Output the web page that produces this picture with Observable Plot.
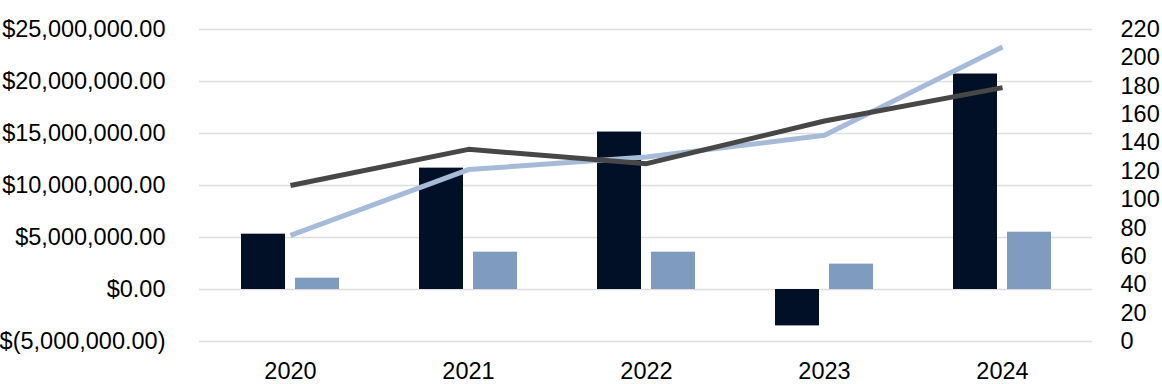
<!DOCTYPE html>
<html>
<head>
<meta charset="utf-8">
<script src="https://cdn.jsdelivr.net/npm/d3@7"></script>
<script src="https://cdn.jsdelivr.net/npm/@observablehq/plot@0.6"></script>
<style>
  html, body { margin: 0; padding: 0; background: #fff; }
</style>
</head>
<body>
<div id="chart"></div>
<script>
// Categories
const years = ["2020", "2021", "2022", "2023", "2024"];
// Bar series (left axis, dollars)
const barDark  = [5320000, 11670000, 15140000, -3500000, 20720000];
const barLight = [1090000, 3590000, 3590000, 2440000, 5510000];
// Line series (right axis)
const lineDark  = [110, 135.5, 125.4, 155.5, 179];
const lineLight = [74.8, 121.2, 130.1, 145.4, 207.7];
// Tick values
const leftTicks  = [-5000000, 0, 5000000, 10000000, 15000000, 20000000, 25000000];
const rightTicks = [0, 20, 40, 60, 80, 100, 120, 140, 160, 180, 200, 220];

// Map right-axis domain [0,220] onto left-axis domain [-5M,25M]
const leftMin = -5000000, leftMax = 25000000, rightMin = 0, rightMax = 220;
const toLeft = v => leftMin + (v - rightMin) * (leftMax - leftMin) / (rightMax - rightMin);
const fromLeft = v => rightMin + (v - leftMin) * (rightMax - rightMin) / (leftMax - leftMin);

const money = d3.format(",.2f");
const fmtLeft = v => v < 0 ? "$(" + money(-v) + ")" : "$" + money(v);

const rows = years.map((y, i) => ({
  year: y, dark: barDark[i], light: barLight[i],
  ldark: toLeft(lineDark[i]), llight: toLeft(lineLight[i])
}));

const chart = Plot.plot({
  width: 1162,
  height: 384,
  marginLeft: 199,
  marginRight: 70,
  marginTop: 29,
  marginBottom: 43,
  style: {fontFamily: "'Liberation Sans', Arial, sans-serif", fontSize: "23.5px", color: "#000", background: "#fff"},
  x: {type: "band", domain: years, paddingInner: 0.7536, paddingOuter: 0.3768, label: null},
  y: {domain: [leftMin, leftMax], label: null},
  marks: [
    Plot.gridY(leftTicks, {stroke: "#DEDEDE", strokeOpacity: 1, strokeWidth: 1.5}),
    Plot.axisY(leftTicks, {anchor: "left", tickSize: 0, tickPadding: 34, tickFormat: fmtLeft, label: null}),
    Plot.axisY(rightTicks.map(toLeft), {anchor: "right", tickSize: 0, tickPadding: 28, tickFormat: d => String(Math.round(fromLeft(d))), label: null}),
    Plot.axisX({tickSize: 0, tickPadding: 21, label: null}),
    Plot.barY(rows, {x: "year", y: "dark", fill: "#021027", dx: -27}),
    Plot.barY(rows, {x: "year", y: "light", fill: "#7F9BBF", dx: 27}),
    Plot.lineY(rows, {x: "year", y: "llight", stroke: "#A6BBD7", strokeWidth: 5, strokeLinecap: "butt", strokeLinejoin: "miter"}),
    Plot.lineY(rows, {x: "year", y: "ldark", stroke: "#474747", strokeWidth: 5, strokeLinecap: "butt", strokeLinejoin: "miter"})
  ]
});
document.getElementById("chart").appendChild(chart);
</script>
</body>
</html>
